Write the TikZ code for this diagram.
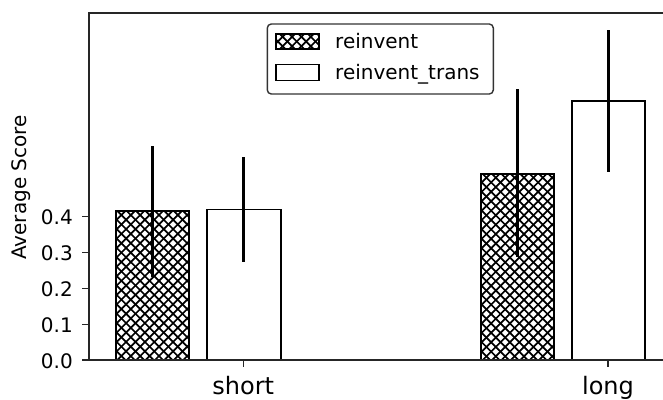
\documentclass[tikz,border=0pt]{standalone}
\usepackage{fontspec}
\setmainfont{DejaVu Sans}
\newcommand\xhatch[4]{%
  \begin{scope}
    \clip (#1,#2) rectangle (#3,#4);
    \foreach \i in {0,...,45}{
      \pgfmathsetmacro\ca{#1-#4+\i*9.4}
      \draw[hatchline] (\ca+#2,#2) -- (\ca+#4,#4);
      \pgfmathsetmacro\cb{#1+#2+\i*9.4}
      \draw[hatchline] (\cb-#2,#2) -- (\cb-#4,#4);
    }
  \end{scope}}
\tikzset{
  hatchline/.style={line width=1.7pt,black},
  baredge/.style={draw=black,line width=1.8pt,fill=white},
  barframe/.style={draw=black,line width=1.8pt},
  spine/.style={line width=1.6pt,black!85},
  tickmark/.style={line width=1.4pt,black!85},
  errbar/.style={line width=3pt,black},
  ticklab/.style={font=\fontsize{20}{24}\selectfont,inner sep=0pt},
  catlab/.style={font=\fontsize{24}{28}\selectfont,inner sep=0pt,anchor=base},
  leglab/.style={font=\fontsize{20}{24}\selectfont,inner sep=0pt,anchor=base west},
}
\begin{document}
\begin{tikzpicture}[x=1pt,y=-1pt]
\useasboundingbox (0,0) rectangle (663,399);
\fill[white] (0,0) rectangle (663,399);

% bars
\fill[white] (116,211) rectangle (189,360);
\xhatch{116}{211}{189}{360}
\draw[barframe] (116,211) rectangle (189,360);
\draw[baredge] (207.3,209.5) rectangle (280.7,360);
\fill[white] (480.7,174) rectangle (554,360);
\xhatch{480.7}{174}{554}{360}
\draw[barframe] (480.7,174) rectangle (554,360);
\draw[baredge] (572.3,101) rectangle (645,360);

% error bars
\coordinate (e1t) at (152.7,146); \coordinate (e1b) at (152.7,276.5);
\coordinate (e2t) at (243.7,157.3); \coordinate (e2b) at (243.7,262.3);
\coordinate (e3t) at (517.5,89.3); \coordinate (e3b) at (517.5,256.7);
\coordinate (e4t) at (608,30); \coordinate (e4b) at (608,171.7);
\draw[errbar] (e1t) -- (e1b);
\draw[errbar] (e2t) -- (e2b);
\draw[errbar] (e3t) -- (e3b);
\draw[errbar] (e4t) -- (e4b);

% spines
\coordinate (tl) at (89,13); \coordinate (bl) at (89,360);
\coordinate (tr) at (664,13); \coordinate (br) at (664,360);
\draw[spine] (tr) -- (tl) -- (bl) -- (br);

% y ticks
\foreach \v/\y in {0.0/360,0.1/324.2,0.2/288.3,0.3/252.5,0.4/216.7}{
  \draw[tickmark] (82,\y) -- (89,\y);
  \node[ticklab,anchor=east] (yl\v) at (73,\y+1) {\v};
}
% x ticks
\draw[tickmark] (243.3,360) -- (243.3,367);
\draw[tickmark] (608,360) -- (608,367);
\node[catlab] (xs) at (243.3,394) {short};
\node[catlab] (xl) at (608,394) {long};

% y label
\node[font=\fontsize{20}{24}\selectfont,inner sep=0pt,rotate=90,anchor=base] (ylab) at (27,187.5) {Average Score};

% legend
\draw[line width=1.4pt,black!80,rounded corners=4pt,fill=white] (267.3,24) rectangle (493.3,94);
\fill[white] (275.7,34.3) rectangle (319,48.7);
\xhatch{275.7}{34.3}{319}{48.7}
\draw[barframe] (275.7,34.3) rectangle (319,48.7);
\draw[baredge] (275.7,64.5) rectangle (319,80.5);
\node[leglab] (l1) at (335,48.3) {reinvent};
\node[leglab] (l2) at (335,79.5) {reinvent\_trans};
\end{tikzpicture}
\end{document}
